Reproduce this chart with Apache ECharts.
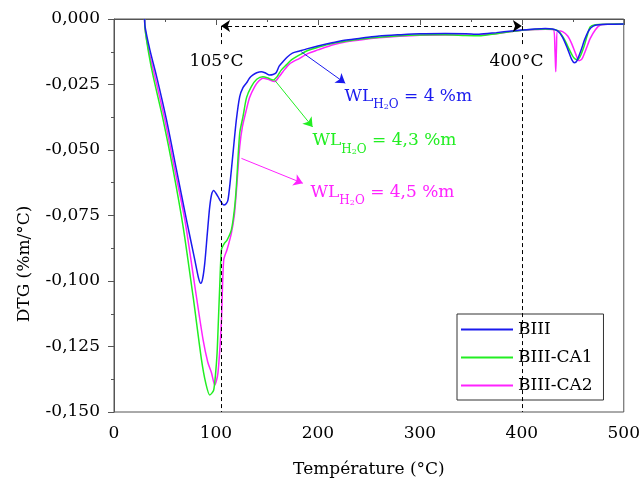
<!DOCTYPE html>
<html><head><meta charset="utf-8">
<script src="https://cdn.jsdelivr.net/npm/echarts@6/dist/echarts.min.js"></script>
<style>html,body{margin:0;padding:0;background:#fff}#c{width:643px;height:485px}</style>
</head><body><div id="c"></div>
<script>
// ---- data ----
const seriesNames = ['BIII', 'BIII-CA1', 'BIII-CA2'];
const xTicks = [0, 100, 200, 300, 400, 500];
const yTicks = [0, -0.025, -0.05, -0.075, -0.1, -0.125, -0.15];

const biiiT = [30,30.5,35.2,41.8,51.5,61.3,71.1,79.3,83,85.1,87,89,91.5,93.9,96,97.8,100,102,105,107.6,110,111.8,114,116.7,120,123.3,126.5,129.8,133,136,140,144.5,148,152.6,156,159,162,165.7,170,175,182,190,200,215,228,245,260,280,300,325,345,358,375,390,400,410,423,430,435,440,445,449,451.6,454,458,462,466,470,475,485,500];
const biiiV = [0,-0.003,-0.0118,-0.022,-0.0385,-0.0576,-0.0767,-0.092,-0.099,-0.1009,-0.099,-0.0933,-0.082,-0.0716,-0.0665,-0.0655,-0.0665,-0.0678,-0.0698,-0.071,-0.0705,-0.069,-0.062,-0.0513,-0.0385,-0.0296,-0.0262,-0.0245,-0.0225,-0.0214,-0.0205,-0.0201,-0.0205,-0.0214,-0.0212,-0.0205,-0.018,-0.0163,-0.0145,-0.013,-0.0122,-0.0113,-0.0103,-0.009,-0.008,-0.0072,-0.0065,-0.006,-0.0056,-0.0055,-0.0056,-0.0058,-0.0052,-0.0046,-0.0042,-0.0039,-0.0036,-0.0038,-0.0045,-0.007,-0.0115,-0.0155,-0.0167,-0.016,-0.012,-0.0075,-0.0042,-0.0027,-0.0022,-0.002,-0.0019];

const ca1T = [30,30.5,34,38.5,48.2,58,67.8,77.6,85.8,90,93.9,96,97.8,99.5,101.1,102.5,103.7,105.4,108,110.9,115.1,118,120,123.3,126.5,130,134.7,140,146,151,156,160,164,169,174,182,190,200,215,228,245,260,280,300,325,345,360,375,390,400,410,423,432,437,442,447,451,454.4,457,461,464,467,472,485,500];
const ca1V = [0,-0.004,-0.013,-0.022,-0.0385,-0.0576,-0.0793,-0.106,-0.130,-0.139,-0.1435,-0.1428,-0.1416,-0.136,-0.1276,-0.114,-0.102,-0.088,-0.0858,-0.0844,-0.0805,-0.073,-0.064,-0.0436,-0.0373,-0.030,-0.0258,-0.023,-0.022,-0.0225,-0.0233,-0.022,-0.0195,-0.0175,-0.0156,-0.0137,-0.012,-0.0108,-0.0093,-0.0084,-0.0075,-0.007,-0.0064,-0.0061,-0.006,-0.0063,-0.0064,-0.0056,-0.0048,-0.0043,-0.004,-0.0038,-0.004,-0.005,-0.008,-0.012,-0.0148,-0.0156,-0.0145,-0.0105,-0.0065,-0.003,-0.0022,-0.002,-0.0019];

const ca2T = [30,30.5,34,40.1,49.9,59.7,69.5,79.3,87.4,92,95.6,98.8,100.5,102,103.8,105.4,107.6,110.9,115.1,118,120,123.3,126,129.8,133,138,142,146,151,157.5,162,165.7,172,182,190,200,215,228,245,260,280,300,325,345,360,375,390,400,410,423,431,432.5,433.3,434,435,440,445,449,453,456,459,463,467,472,477,485,500];
const ca2V = [0,-0.004,-0.012,-0.022,-0.0385,-0.0576,-0.0767,-0.102,-0.1225,-0.131,-0.135,-0.1397,-0.138,-0.135,-0.126,-0.115,-0.092,-0.088,-0.0818,-0.075,-0.066,-0.0487,-0.041,-0.0347,-0.030,-0.0258,-0.0237,-0.0226,-0.023,-0.0239,-0.022,-0.0201,-0.0172,-0.015,-0.0132,-0.0118,-0.0098,-0.0087,-0.0078,-0.0072,-0.0066,-0.0062,-0.0061,-0.0062,-0.0061,-0.0056,-0.0048,-0.0043,-0.0041,-0.0039,-0.004,-0.012,-0.0201,-0.011,-0.0045,-0.0048,-0.0065,-0.0095,-0.0135,-0.0159,-0.0152,-0.0115,-0.0075,-0.0042,-0.0023,-0.002,-0.0019];

const markTemps = [105, 400];
const markLabels = ['105°C', '400°C'];
const wlLabels = ['4', '4,3', '4,5'];

// ---- chart ----
const FONT = 'DejaVu Serif';
const colors = ['#1a1aee', '#22ee22', '#ff22ff'];
const zip = (a, b) => a.map((t, i) => [t, b[i]]);
const el = document.getElementById('c');
const chart = echarts.init(el, null, {renderer: 'canvas'});

const topV = -0.0027, gapTop = -0.0099, gapBot = -0.0214;
const dash = {color: '#000', type: [4, 3], width: 1};

const annotLines = [];
markTemps.forEach(t => {
  annotLines.push([{coord: [t, topV], symbol: 'none', lineStyle: dash}, {coord: [t, gapTop], symbol: 'none'}]);
  annotLines.push([{coord: [t, gapBot], symbol: 'none', lineStyle: dash}, {coord: [t, -0.15], symbol: 'none'}]);
});
annotLines.push([{coord: [markTemps[0], topV], symbol: 'arrow', lineStyle: dash}, {coord: [markTemps[1], topV], symbol: 'arrow'}]);
// pointer arrows
const arrowDefs = [
  {from: [183.7, -0.0125], to: [226.8, -0.0245], c: colors[0]},
  {from: [157.5, -0.0233], to: [194.8, -0.0412], c: colors[1]},
  {from: [125, -0.0532], to: [185.2, -0.0627], c: colors[2]}
];
arrowDefs.forEach(a => {
  annotLines.push([{coord: a.from, symbol: 'none', lineStyle: {color: a.c, width: 1, type: 'solid'}, itemStyle: {color: a.c}},
                   {coord: a.to, symbol: 'arrow', itemStyle: {color: a.c}}]);
});

const series = [
  {name: seriesNames[0], data: zip(biiiT, biiiV)},
  {name: seriesNames[1], data: zip(ca1T, ca1V)},
  {name: seriesNames[2], data: zip(ca2T, ca2V)}
].map((s, i) => ({
  type: 'line', name: s.name, data: s.data, showSymbol: false, symbol: 'none',
  smooth: 0.25, z: 3 - i,
  lineStyle: {color: colors[i], width: 1.5}, itemStyle: {color: colors[i]}, animation: false
}));
series.push({
  type: 'line', name: 'annot', data: [], silent: true, animation: false,
  markLine: {silent: true, animation: false, symbolSize: 9, label: {show: false}, emphasis: {disabled: true},
    itemStyle: {color: '#000'}, data: annotLines}
});

const axisCol = '#555';
chart.setOption({
  animation: false,
  textStyle: {fontFamily: FONT},
  grid: {left: 114, right: 18, top: 19, bottom: 73, show: true, borderColor: axisCol, borderWidth: 1, backgroundColor: 'transparent'},
  xAxis: {
    type: 'value', min: xTicks[0], max: xTicks[xTicks.length - 1], interval: 100,
    name: 'Température (°C)', nameLocation: 'middle', nameGap: 49,
    nameTextStyle: {fontFamily: FONT, fontSize: 17, color: '#000'},
    axisLine: {show: true, lineStyle: {color: axisCol}},
    axisTick: {show: true, length: 6, lineStyle: {color: axisCol}},
    minorTick: {show: true, splitNumber: 2, length: 3, lineStyle: {color: axisCol}},
    splitLine: {show: false},
    axisLabel: {fontFamily: FONT, fontSize: 17, color: '#000', margin: 13}
  },
  yAxis: {
    type: 'value', min: yTicks[yTicks.length - 1], max: yTicks[0], interval: 0.025,
    axisLine: {show: true, onZero: false, lineStyle: {color: axisCol}},
    axisTick: {show: true, length: 6, lineStyle: {color: axisCol}},
    minorTick: {show: true, splitNumber: 2, length: 3, lineStyle: {color: axisCol}},
    splitLine: {show: false},
    axisLabel: {fontFamily: FONT, fontSize: 17, color: '#000', margin: 14,
      formatter: v => (Math.abs(v) < 1e-9 ? 0 : v).toFixed(3).replace('.', ',')}
  },
  legend: {
    data: seriesNames, orient: 'vertical', left: 457, top: 314,
    borderColor: '#333', borderWidth: 1, borderRadius: 0, padding: [7, 11, 6, 3],
    itemWidth: 52, itemHeight: 18, itemGap: 11, itemStyle: {opacity: 0},
    textStyle: {fontFamily: FONT, fontSize: 17, color: '#000'}
  },
  series: series
});

// ---- text annotations positioned via the chart scales ----
const px = p => chart.convertToPixel({gridIndex: 0}, p);
const graphics = [];
const yTitle = px([0, -0.0935]);
graphics.push({type: 'text', x: 25, y: yTitle[1], rotation: Math.PI / 2,
  style: {text: 'DTG (%m/°C)', font: '17px "' + FONT + '"', fill: '#000', align: 'center', verticalAlign: 'middle'}});
[[100.6, markLabels[0]], [394.7, markLabels[1]]].forEach(([t, s]) => {
  const p = px([t, -0.0163]);
  graphics.push({type: 'text', x: p[0], y: p[1], z: 10,
    style: {text: s, font: '17px "' + FONT + '"', fill: '#000', align: 'center', verticalAlign: 'middle'}});
});
const wlPos = [[226, -0.0263], [194.7, -0.0433], [192.8, -0.063]];
wlPos.forEach((d, i) => {
  const p = px(d);
  const c = colors[i];
  graphics.push({type: 'text', x: p[0], y: p[1], z: 10,
    style: {
      text: '{b|WL}{s|H}{ss|2}{s|O}{b| = ' + wlLabels[i] + ' %m}',
      fill: c, align: 'left', verticalAlign: 'top',
      rich: {
        b: {fontFamily: FONT, fontSize: 17, lineHeight: 23, verticalAlign: 'top', fill: c},
        s: {fontFamily: FONT, fontSize: 12, lineHeight: 12, verticalAlign: 'bottom', fill: c},
        ss: {fontFamily: FONT, fontSize: 8, lineHeight: 8, verticalAlign: 'bottom', fill: c}
      }
    }});
});
chart.setOption({graphic: graphics});
</script>
</body></html>
